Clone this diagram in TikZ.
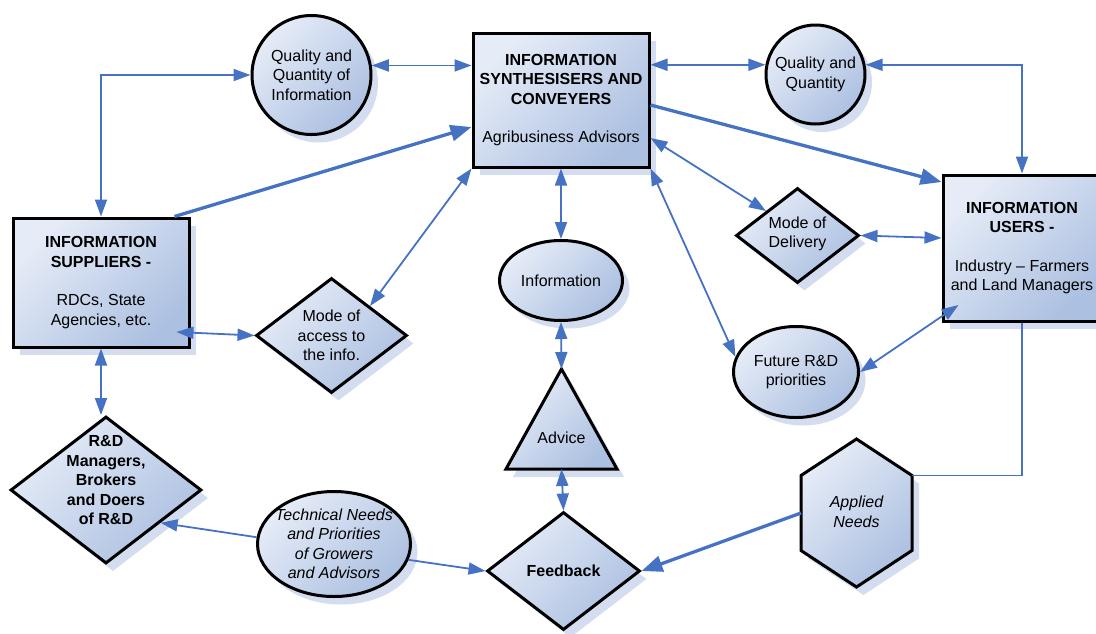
\documentclass[tikz,border=0pt]{standalone}
\usepackage{fontspec}
\setmainfont{Liberation Sans}
\usetikzlibrary{arrows.meta,shapes.geometric,shadows,calc}
\definecolor{cBlue}{HTML}{4672C4}
\definecolor{cLight}{HTML}{E6ECF7}
\definecolor{cDark}{HTML}{ACC0E1}
\definecolor{cShadow}{HTML}{D3DDEF}
\newcommand\dfont{\fontsize{16}{19.5}\selectfont}
\tikzset{
  shp/.style={draw=black, line width=3pt, top color=cLight, bottom color=cDark, shading angle=45,
    drop shadow={shadow xshift=7pt, shadow yshift=-8pt, fill=cShadow, opacity=1}, inner sep=0pt},
  txt/.style={align=center, font=\dfont, inner sep=0pt},
  conn/.style={draw=cBlue, line width=1.8pt, >={Triangle[length=17pt,width=12pt]}},
  thk/.style={draw=cBlue, line width=3.3pt, >={Triangle[length=21pt,width=16pt]}}
}
\begin{document}
\begin{tikzpicture}[x=1pt,y=-1pt]
\useasboundingbox (0,0) rectangle (1096,633);

% boxes
\node[shp, rectangle, minimum width=176, minimum height=134, txt] (synth) at (561,100)
  {\bfseries INFORMATION\\\bfseries SYNTHESISERS AND\\\bfseries CONVEYERS\\[19pt]Agribusiness Advisors};
\node[shp, rectangle, minimum width=176, minimum height=129, txt] (sup) at (101,282.5)
  {\bfseries INFORMATION\\\bfseries SUPPLIERS -\\[19pt]RDCs, State\\Agencies, etc.};
\node[shp, rectangle, minimum width=158, minimum height=146, txt] (usr) at (1022,248)
  {\bfseries INFORMATION\\\bfseries USERS -\\[19pt]Industry -- Farmers\\and Land Managers};

% circles and ellipses
\node[shp, circle, minimum size=119] (qqi) at (311.5,75) {};
\node[txt] (qqiT) at (qqi) {Quality and\\Quantity of\\Information};
\node[shp, circle, minimum size=99] (qq) at (815.5,74.5) {};
\node[txt] (qqT) at (qq) {Quality and\\Quantity};
\node[shp, ellipse, minimum width=123, minimum height=80] (info) at (561,280.5) {};
\node[txt] (infoT) at (info) {Information};
\node[shp, ellipse, minimum width=125, minimum height=91] (fut) at (796,372) {};
\node[txt] (futT) at (fut) {Future R\&D\\priorities};
\node[shp, ellipse, minimum width=153, minimum height=105] (tech) at (334,544) {};
\node[txt, font=\dfont\itshape] (techT) at (tech) {Technical Needs\\and Priorities\\of Growers\\and Advisors};

% diamonds
\node[shp, diamond, minimum width=123, minimum height=95] (del) at (797.5,235.5) {};
\node[txt] (delT) at (797.5,234) {Mode of\\Delivery};
\node[shp, diamond, minimum width=151, minimum height=115] (access) at (331.5,335.5) {};
\node[txt] (accessT) at (access) {Mode of\\access to\\the info.};
\node[shp, diamond, minimum width=153, minimum height=118] (fb) at (563.5,571) {};
\node[txt, font=\dfont\bfseries] (fbT) at (fb) {Feedback};
\node[shp, diamond, minimum width=191, minimum height=147] (rnd) at (106,490) {};
\node[txt, font=\dfont\bfseries] (rndT) at (106,480.5) {R\&D\\Managers,\\Brokers\\and Doers\\of R\&D};

% triangle
\draw[shp] (506,469) -- (561.5,369) -- (617,469) -- cycle;
\coordinate (advT) at (561.5,369);
\coordinate (advB) at (561.5,469);
\node[txt] (advice) at (561.5,438) {Advice};

% hexagon
\draw[shp] (856.5,439) -- (912,475.5) -- (912,550.5) -- (856.5,587) -- (801,550.5) -- (801,475.5) -- cycle;
\coordinate (appW) at (801,513);
\coordinate (appNE) at (912,475.5);
\node[txt, font=\dfont\itshape] (app) at (856.5,512) {Applied\\Needs};

% connectors
\draw[conn,<->] (sup.north) |- (qqi.west);
\draw[conn,<->] (qqi.9) -- (qqi.9 -| synth.west);
\draw[thk,->] ($(sup.north east)+(-16,0)$) -- (synth.west |- 0,127);
\draw[conn,<->] (access.north east) -- (synth.south west);
\draw[conn,<->] ($(sup.east |- 0,332)+(-14,0)$) -- (access.west);
\draw[conn,<->] (sup.south) -- (sup.south |- rnd.north);
\draw[conn,->] (tech.175) -- (rnd.-31);
\draw[conn,->] (tech.-12) -- (fb.west);
\draw[conn,<->] (synth.south) -- (info.north);
\draw[conn,<->] (info.south) -- (advT);
\draw[conn,<->] (advB) -- (fb.north);
\draw[thk,->] (appW) -- (fb.east);
\draw[conn] (usr.south) |- (appNE);
\draw[conn,<->] (synth.east |- qq.169) -- (qq.169);
\draw[conn,<->] (qq.11) -| (usr.north);
\draw[thk,->] (synth.east |- 0,105) -- (usr.west |- 0,182);
\draw[conn,<->] (synth.east |- 0,138) -- (del.north west);
\draw[conn,<->] (del.east) -- (usr.west |- 0,238);
\draw[conn,<->] (synth.south east) -- (fut.166);
\draw[conn,<->] (fut.east) -- ($(usr.west |- 0,305)+(17,0)$);
\end{tikzpicture}
\end{document}
